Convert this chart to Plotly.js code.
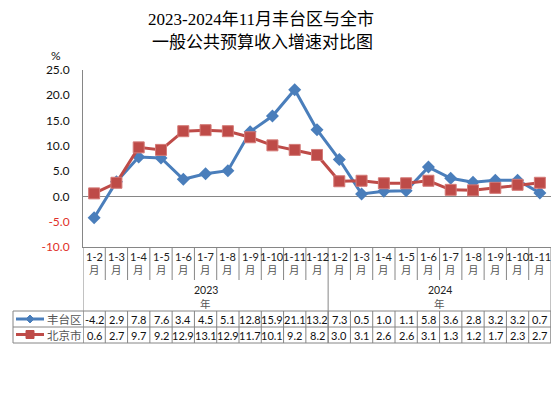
<!DOCTYPE html>
<html><head><meta charset="utf-8">
<script src="https://cdn.plot.ly/plotly-3.0.1.min.js"></script>
<style>html,body{margin:0;padding:0;background:#fff}#chart{width:554px;height:397px}</style>
</head><body><div id="chart"></div>
<script>
const months2023 = ['1-2','1-3','1-4','1-5','1-6','1-7','1-8','1-9','1-10','1-11','1-12'];
const months2024 = ['1-2','1-3','1-4','1-5','1-6','1-7','1-8','1-9','1-10','1-11'];
const years = ['2023','2024'];
const seriesNames = ['丰台区','北京市'];
const fengtai = [-4.2,2.9,7.8,7.6,3.4,4.5,5.1,12.8,15.9,21.1,13.2,7.3,0.5,1.0,1.1,5.8,3.6,2.8,3.2,3.2,0.7];
const beijing = [0.6,2.7,9.7,9.2,12.9,13.1,12.9,11.7,10.1,9.2,8.2,3.0,3.1,2.6,2.6,3.1,1.3,1.2,1.7,2.3,2.7];
const yTicks = [-10,-5,0,5,10,15,20,25];
const titleLines = ['2023-2024年11月丰台区与全市', '一般公共预算收入增速对比图'];

const cats = months2023.concat(months2024);
const N = cats.length;
const idx = cats.map((_, i) => i);

const W = 554, H = 397;
const L = 83, R = 551, T = 70, B = 247;
const pw = R - L, ph = B - T;
const py = Y => (B - Y) / ph;
const px = X => (X - L) / pw;

const blue = '#4A7EBB', red = '#BE4B48', grid = '#868686';
const numFont = "Lato, 'Liberation Sans', 'Noto Sans CJK SC', sans-serif";
const cjkFont = "'Noto Sans CJK SC', sans-serif";

const traces = [
  {x: idx, y: fengtai, type: 'scatter', mode: 'lines+markers', name: seriesNames[0],
   line: {color: blue, width: 3}, marker: {symbol: 'diamond', size: 10, color: blue}},
  {x: idx, y: beijing, type: 'scatter', mode: 'lines+markers', name: seriesNames[1],
   line: {color: red, width: 3}, marker: {symbol: 'square', size: 11, color: red, line: {color: '#D47A77', width: 1}}}
];

const shapes = [];
const ann = [];
const ln = (x0, y0, x1, y1, xref) => shapes.push({type: 'line', xref: xref || 'x', yref: 'paper',
  x0, y0, x1, y1, line: {color: grid, width: 1}});
const txt = (x, y, xref, text, font) => ann.push({x, y, xref, yref: 'paper', text, showarrow: false,
  xanchor: 'center', yanchor: 'middle', borderpad: 0, font});

// category label row separators
for (let i = 0; i <= N; i++) ln(i - 0.5, py(B), i - 0.5, py(280));
// year row borders
[-0.5, months2023.length - 0.5, N - 0.5].forEach(v => ln(v, py(280), v, py(343)));
// data rows cell separators
for (let i = 0; i <= N; i++) ln(i - 0.5, py(311), i - 0.5, py(343));
// horizontal rows
[311, 327, 343].forEach(Y => ln(px(13), py(Y), 1, py(Y), 'paper'));
ln(px(13), py(311), px(13), py(343), 'paper');

// category labels
cats.forEach((c, i) => {
  txt(i, py(256), 'x', c, {family: numFont, size: 11, color: '#222'});
  txt(i, py(269.5), 'x', '月', {family: cjkFont, size: 10.5, color: '#555'});
});
// year labels
const yearCenters = [(months2023.length - 1) / 2, months2023.length + (months2024.length - 1) / 2];
years.forEach((yv, k) => {
  txt(yearCenters[k], py(290), 'x', yv, {family: numFont, size: 10.5, color: '#222'});
  txt(yearCenters[k], py(303), 'x', '年', {family: cjkFont, size: 10.5, color: '#555'});
});
// data values
[fengtai, beijing].forEach((arr, r) => {
  const Y = r === 0 ? 319.5 : 335;
  arr.forEach((v, i) => txt(i, py(Y), 'x', v.toFixed(1), {family: numFont, size: 11, color: '#111'}));
});
// legend cells
[[blue, 'diamond'], [red, 'square']].forEach(([col, sym], r) => {
  const Y = r === 0 ? 319 : 334.5;
  shapes.push({type: 'line', xref: 'paper', yref: 'paper', x0: px(16), x1: px(44), y0: py(Y), y1: py(Y),
    line: {color: col, width: 3}});
  const cx = 30, s = 4;
  if (sym === 'diamond') {
    shapes.push({type: 'path', xref: 'paper', yref: 'paper', fillcolor: col, line: {color: col, width: 1},
      path: `M ${px(cx)} ${py(Y - s)} L ${px(cx + s)} ${py(Y)} L ${px(cx)} ${py(Y + s)} L ${px(cx - s)} ${py(Y)} Z`});
  } else {
    shapes.push({type: 'rect', xref: 'paper', yref: 'paper', fillcolor: col, line: {color: col, width: 1},
      x0: px(cx - s), x1: px(cx + s), y0: py(Y - s), y1: py(Y + s)});
  }
  txt(px(64), py(Y), 'paper', seriesNames[r], {family: cjkFont, size: 11.5, color: '#555'});
});
// % unit
txt(px(56), py(55), 'paper', '%', {family: numFont, size: 12, color: '#111'});
// title lines
const titleFont = {family: "'Liberation Serif', 'Noto Sans CJK SC', serif", size: 17, color: '#000'};
txt(px(261), py(19.5), 'paper', titleLines[0], titleFont);
txt(px(262), py(43), 'paper', titleLines[1], titleFont);

const layout = {
  width: W, height: H,
  margin: {l: L, r: W - R, t: T, b: H - B, pad: 0},
  paper_bgcolor: '#fff', plot_bgcolor: '#fff',
  showlegend: false,
  xaxis: {range: [-0.5, N - 0.5], showgrid: false, zeroline: false, showticklabels: false,
    showline: true, linecolor: grid, linewidth: 1, ticks: '', fixedrange: true},
  yaxis: {range: [-10, 25], showgrid: false, zeroline: true, zerolinecolor: grid, zerolinewidth: 1,
    showline: true, linecolor: grid, linewidth: 1, ticks: '',
    tickvals: yTicks,
    ticktext: yTicks.map(v => v < 0 ? `<span style="color:#E0302A">${v.toFixed(1)}</span>` : v.toFixed(1)),
    ticklabelstandoff: 10,
    tickfont: {family: numFont, size: 12, color: '#111'}},
  shapes, annotations: ann
};
Plotly.newPlot('chart', traces, layout, {staticPlot: true});
</script></body></html>
